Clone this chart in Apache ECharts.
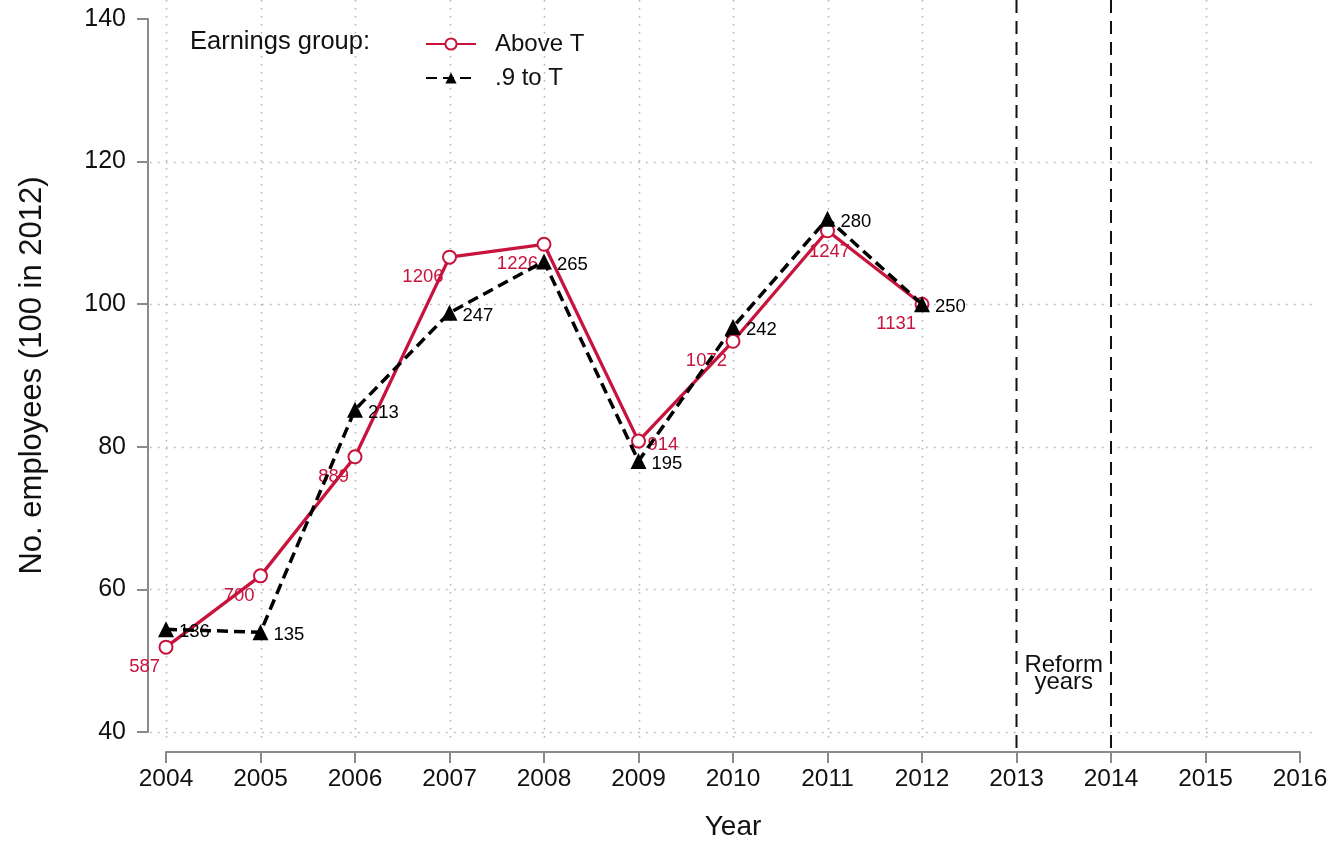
<!DOCTYPE html>
<html>
<head>
<meta charset="utf-8">
<title>No. employees by earnings group</title>
<script src="https://cdn.jsdelivr.net/npm/echarts@6/dist/echarts.min.js"></script>
<style>
  html, body { margin: 0; padding: 0; background: #ffffff; }
  #chart { width: 1333px; height: 841px; }
</style>
</head>
<body>
<div id="chart"></div>
<script>
// Years shown on the chart
const years = [2004, 2005, 2006, 2007, 2008, 2009, 2010, 2011, 2012];

// Index values (100 in 2012) and head counts for each earnings group
const aboveT = [51.9, 61.9, 78.6, 106.6, 108.4, 80.8, 94.8, 110.3, 100.0];
const aboveTCounts = [587, 700, 889, 1206, 1226, 914, 1072, 1247, 1131];
const nineToT = [54.4, 54.0, 85.2, 98.8, 106.0, 78.0, 96.8, 112.0, 100.0];
const nineToTCounts = [136, 135, 213, 247, 265, 195, 242, 280, 250];

// Axis ticks
const xTicks = [2004, 2005, 2006, 2007, 2008, 2009, 2010, 2011, 2012, 2013, 2014, 2015, 2016];
const yTicks = [40, 60, 80, 100, 120, 140];

// Reform period markers
const reformYears = [2013, 2014];
const reformText = 'Reform\nyears';

const RED = '#c8133c';
const FONT = '"Liberation Sans", Arial, Helvetica, sans-serif';
const AXIS_GREY = '#8a8a8a';

const chart = echarts.init(document.getElementById('chart'), null, { renderer: 'canvas' });

// Label placement for the "Above T" counts: most sit below-left of the marker
function aboveTLabel(i) {
  const base = { show: true, position: ['50%', '50%'], color: RED, fontSize: 18.5, fontFamily: FONT,
                 verticalAlign: 'middle' };
  if (i === 5) return Object.assign(base, { align: 'left', offset: [9, 4] });
  if (i === 7) return Object.assign(base, { align: 'center', offset: [2, 21] });
  return Object.assign(base, { align: 'right', offset: [-6, 20] });
}

const option = {
  animation: false,
  backgroundColor: '#ffffff',
  textStyle: { fontFamily: FONT },
  grid: { left: 166, right: 33, top: 19, bottom: 109, outerBoundsMode: 'none', containLabel: false },
  xAxis: {
    type: 'value',
    min: xTicks[0],
    max: xTicks[xTicks.length - 1],
    interval: 1,
    offset: 20,
    name: 'Year',
    nameLocation: 'middle',
    nameGap: 61,
    nameTextStyle: { fontSize: 28, color: '#111', fontFamily: FONT },
    axisLine: { show: true, lineStyle: { color: AXIS_GREY, width: 2 } },
    axisTick: { show: true, length: 11, lineStyle: { color: AXIS_GREY, width: 2 } },
    axisLabel: { fontSize: 24.5, color: '#111', margin: 15, fontFamily: FONT,
                 formatter: v => String(v) },
    splitLine: { show: false }
  },
  yAxis: {
    type: 'value',
    min: yTicks[0],
    max: yTicks[yTicks.length - 1],
    interval: 20,
    offset: 18,
    name: 'No. employees (100 in 2012)',
    nameLocation: 'middle',
    nameGap: 100,
    nameTextStyle: { fontSize: 31, color: '#111', fontFamily: FONT },
    axisLine: { show: true, lineStyle: { color: AXIS_GREY, width: 2 } },
    axisTick: { show: true, length: 11, lineStyle: { color: AXIS_GREY, width: 2 } },
    axisLabel: { fontSize: 25, color: '#111', margin: 22, fontFamily: FONT },
    splitLine: { show: false }
  },
  legend: {
    orient: 'vertical',
    left: 420,
    top: 27,
    itemWidth: 50,
    itemHeight: 14,
    itemGap: 10,
    textStyle: { fontSize: 24, color: '#111', fontFamily: FONT, padding: [0, 0, 0, 14] },
    data: ['Above T', '.9 to T']
  },
  series: [
    {
      name: 'Above T',
      type: 'line',
      z: 3,
      data: years.map((y, i) => ({ value: [y, aboveT[i]], label: aboveTLabel(i) })),
      symbol: 'emptyCircle',
      symbolSize: 13,
      itemStyle: { color: RED, borderColor: RED, borderWidth: 2.5 },
      lineStyle: { color: RED, width: 3.3 },
      label: { formatter: p => String(aboveTCounts[p.dataIndex]) }
    },
    {
      name: '.9 to T',
      type: 'line',
      z: 4,
      data: years.map((y, i) => [y, nineToT[i]]),
      symbol: 'triangle',
      symbolSize: 16,
      itemStyle: { color: '#000000' },
      lineStyle: { color: '#000000', width: 3.5, type: [11, 6] },
      label: {
        show: true, position: ['50%', '50%'], align: 'left', verticalAlign: 'middle',
        offset: [13, 3], color: '#000', fontSize: 18.5, fontFamily: FONT,
        formatter: p => String(nineToTCounts[p.dataIndex])
      }
    }
  ]
};

chart.setOption(option);

// Dotted grid, reform markers and the legend heading, placed through the axis scales
function drawExtras() {
  const px = (x, y) => chart.convertToPixel({ gridIndex: 0 }, [x, y]);
  const xMin = xTicks[0], xMax = xTicks[xTicks.length - 1];
  const yMin = yTicks[0], yMax = yTicks[yTicks.length - 1];
  const topPx = px(xMin, yMax)[1];
  const botPx = px(xMin, yMin)[1];
  const leftPx = px(xMin, yMin)[0];
  const rightPx = px(xMax, yMin)[0];
  const dotted = { stroke: '#b4b4b4', lineWidth: 1.6, lineDash: [1.6, 6.4] };
  const g = [];

  yTicks.filter(v => v < yMax).forEach(v => {
    const y = Math.round(px(xMin, v)[1]) + 0.5;
    g.push({ type: 'line', z: 0, silent: true,
      shape: { x1: leftPx - 16, y1: y, x2: rightPx + 16, y2: y }, style: dotted });
  });
  xTicks.filter(v => v < xMax && reformYears.indexOf(v) < 0).forEach(v => {
    const x = Math.round(px(v, yMin)[0]) + 0.5;
    g.push({ type: 'line', z: 0, silent: true,
      shape: { x1: x, y1: topPx - 19, x2: x, y2: botPx + 12 }, style: dotted });
  });
  reformYears.forEach(v => {
    const x = px(v, yMin)[0];
    g.push({ type: 'line', z: 1, silent: true,
      shape: { x1: x, y1: 0, x2: x, y2: botPx + 20 },
      style: { stroke: '#111', lineWidth: 2, lineDash: [13, 8] } });
  });
  const mid = px((reformYears[0] + reformYears[1]) / 2, 48.2);
  g.push({ type: 'text', z: 5, silent: true, x: mid[0], y: mid[1],
    style: { text: reformText, fill: '#111', font: '24px ' + FONT,
             align: 'center', verticalAlign: 'middle', lineHeight: 17 } });
  g.push({ type: 'text', z: 5, silent: true, x: 190, y: 42,
    style: { text: 'Earnings group:', fill: '#111', font: '25.5px ' + FONT,
             align: 'left', verticalAlign: 'middle' } });
  chart.setOption({ graphic: g });
}
drawExtras();
</script>
</body>
</html>
